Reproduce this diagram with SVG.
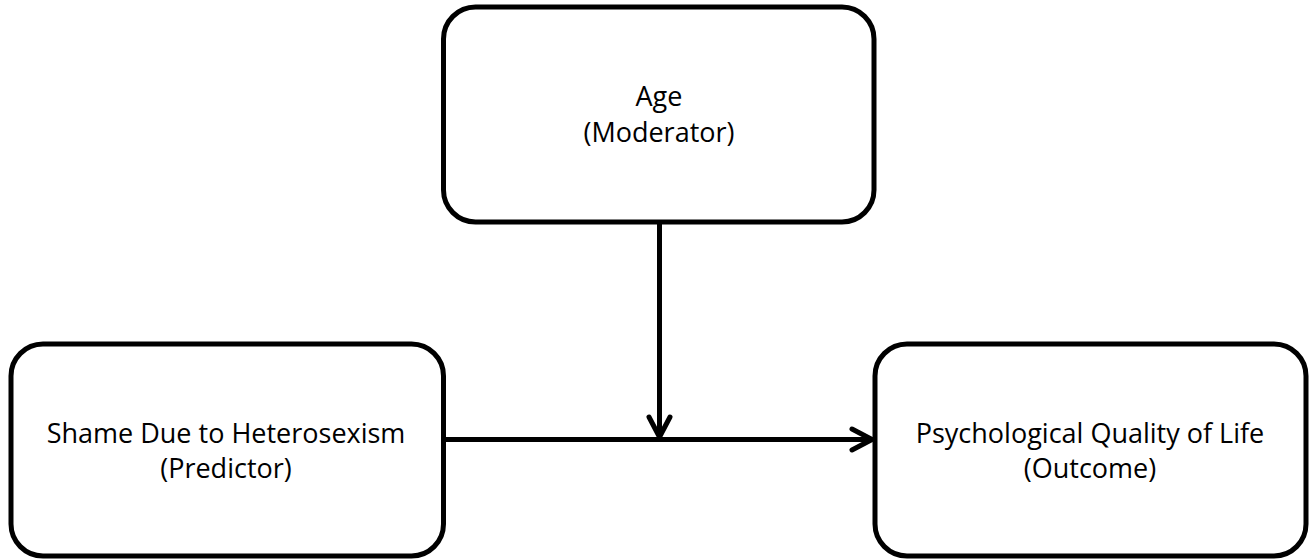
<svg xmlns="http://www.w3.org/2000/svg" width="1316" height="560" viewBox="0 0 1316 560">
<style>
.box{fill:#fff;stroke:#000;stroke-width:5}
.lbl{font-family:"Open Sans","Liberation Sans",sans-serif;font-size:27px;fill:#000;text-anchor:middle}
.ln{fill:none;stroke:#000;stroke-width:5}
.hd{fill:none;stroke:#000;stroke-width:5;stroke-linecap:round;stroke-linejoin:round}
</style>
<rect width="1316" height="560" fill="#fff"/>
<g id="connectors">
<path class="ln" d="M443.5,439.5 H870"/>
<path class="hd" d="M852,429 L872,439.5 L852,450"/>
<path class="ln" d="M659.5,222 V435"/>
<path class="hd" d="M649,417 L659.5,437 L670,417"/>
</g>
<g id="age">
<rect class="box" x="443.5" y="7" width="430.5" height="215" rx="32"/>
<text class="lbl" x="659" y="106">Age</text>
<text class="lbl" x="659" y="142">(Moderator)</text>
</g>
<g id="shame">
<rect class="box" x="11" y="344" width="432.5" height="212" rx="32"/>
<text class="lbl" x="226" y="443">Shame Due to Heterosexism</text>
<text class="lbl" x="226" y="478">(Predictor)</text>
</g>
<g id="pqol">
<rect class="box" x="875" y="344" width="431" height="212" rx="32"/>
<text class="lbl" x="1090" y="443">Psychological Quality of Life</text>
<text class="lbl" x="1090" y="478">(Outcome)</text>
</g>
</svg>
